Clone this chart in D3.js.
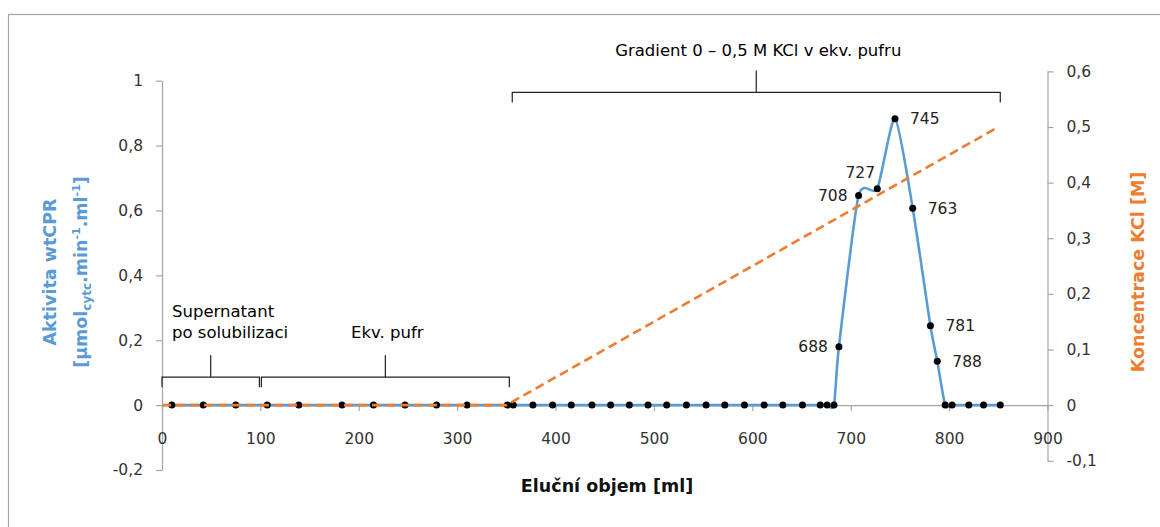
<!DOCTYPE html>
<html lang="cs">
<head>
<meta charset="UTF-8" />
<title>Eluce wtCPR</title>
<script src="https://d3js.org/d3.v7.min.js"></script>
<style>
    body { margin: 0; background: #fff; }
    svg { display: block; }
    .axis path, .axis line { stroke: #a6a6a6; stroke-width: 1.2px; }
    .axis text { font-family: "DejaVu Sans", sans-serif; font-size: 15.5px; fill: #333; }
    .note { font-family: "DejaVu Sans", sans-serif; font-size: 16.5px; fill: #000; }
    .bracket { fill: none; stroke: #222; stroke-width: 1.2px; }
    .ptlabel { font-family: "DejaVu Sans", sans-serif; font-size: 15.5px; fill: #222; }
    .title { font-family: "DejaVu Sans", sans-serif; font-weight: bold; font-size: 17.5px; }
</style>
</head>
<body>
<div id="chart"></div>
<script>
const width = 1160, height = 527;

// fractions: elution volume [ml] and wtCPR activity
const volume = [10, 42, 75, 107, 139, 183, 215, 247, 279, 310, 351, 357, 377, 397, 416, 437,
    456, 475, 494, 513, 533, 553, 572, 592, 612, 631, 651, 669, 676, 683,
    688, 708, 727, 745, 763, 781, 788, 796, 803, 820, 835, 852];
const activity = [0, 0, 0, 0, 0, 0, 0, 0, 0, 0, 0, 0, 0, 0, 0, 0,
    0, 0, 0, 0, 0, 0, 0, 0, 0, 0, 0, 0, 0, 0,
    0.18, 0.646, 0.667, 0.883, 0.607, 0.245, 0.135, 0, 0, 0, 0, 0];

// KCl gradient (right axis)
const kclVolume = [0, 350, 850];
const kclConc = [0, 0, 0.5];

// labelled fractions
const labelVolume = [688, 708, 727, 745, 763, 781, 788];
const labelSide = ["left", "left", "top", "right", "right", "right", "right"];

// phases of the run
const phaseNames = [["Supernatant", "po solubilizaci"], ["Ekv. pufr"], ["Gradient 0 – 0,5 M KCl v ekv. pufru"]];
const phaseFrom = [0, 101, 356];
const phaseTo = [99, 353, 852];
const phaseLevel = [0.086, 0.086, 0.964];

const xTicks = [0, 100, 200, 300, 400, 500, 600, 700, 800, 900];
const leftTicks = [-0.2, 0, 0.2, 0.4, 0.6, 0.8, 1];
const rightTicks = [-0.1, 0, 0.1, 0.2, 0.3, 0.4, 0.5, 0.6];

const comma = d => String(d).replace(".", ",");

const svg = d3.select("#chart").append("svg")
    .attr("width", width)
    .attr("height", height);

// chart frame
svg.append("rect")
    .attr("x", 8.5).attr("y", 14.5)
    .attr("width", 1200).attr("height", 600)
    .attr("fill", "none").attr("stroke", "#a6a6a6").attr("stroke-width", 1.2);

const x = d3.scaleLinear().domain([0, 900]).range([162, 1047.5]);
const yL = d3.scaleLinear().domain([-0.2, 1]).range([470, 80.7]);
// right axis: zero on the same line as the left one, 0,5 M at y = 127
const rStep = (yL(0) - 127) / 0.5;
const yR = d3.scaleLinear().domain([-0.1, 0.6]).range([yL(0) + 0.1 * rStep, yL(0) - 0.6 * rStep]);

// axes
svg.append("g")
    .attr("class", "axis")
    .attr("transform", `translate(${x(0)},0)`)
    .call(d3.axisLeft(yL).tickValues(leftTicks).tickFormat(comma)
        .tickSizeInner(6).tickSizeOuter(0).tickPadding(13));

svg.append("g")
    .attr("class", "axis")
    .attr("transform", `translate(${x(900)},0)`)
    .call(d3.axisRight(yR).tickValues(rightTicks).tickFormat(comma)
        .tickSizeInner(6).tickSizeOuter(0).tickPadding(13));

const xAxis = svg.append("g")
    .attr("class", "axis")
    .attr("transform", `translate(0,${yL(0)})`)
    .call(d3.axisBottom(x).tickValues(xTicks).tickFormat(comma)
        .tickSizeInner(6).tickSizeOuter(0).tickPadding(22));
xAxis.select(".domain").attr("stroke", "#7f7f7f");

// blue activity line
const pts = volume.map((v, i) => [v, activity[i]]);
svg.append("path")
    .datum(pts)
    .attr("fill", "none")
    .attr("stroke", "#5b9bd5")
    .attr("stroke-width", 2.6)
    .attr("stroke-linejoin", "round")
    .attr("d", d3.line().x(d => x(d[0])).y(d => yL(d[1])).curve(d3.curveCardinal.tension(0.35)));

svg.append("g")
    .selectAll("circle")
    .data(pts)
    .join("circle")
    .attr("cx", d => x(d[0]))
    .attr("cy", d => yL(d[1]))
    .attr("r", 3.5)
    .attr("fill", "#000");

// orange KCl line
svg.append("path")
    .datum(kclVolume.map((v, i) => [v, kclConc[i]]))
    .attr("fill", "none")
    .attr("stroke", "#ed7d31")
    .attr("stroke-width", 2.6)
    .attr("stroke-dasharray", "9,5")
    .attr("d", d3.line().x(d => x(d[0])).y(d => yR(d[1])));

// point labels
labelVolume.forEach((v, k) => {
    const i = volume.indexOf(v);
    const px = x(v), py = yL(activity[i]);
    const side = labelSide[k];
    const t = svg.append("text").attr("class", "ptlabel").text(v).attr("dy", "0.36em");
    if (side === "left") t.attr("x", px - 11).attr("y", py).attr("text-anchor", "end");
    else if (side === "right") t.attr("x", px + 15).attr("y", py);
    else t.attr("x", px - 17).attr("y", py - 16).attr("text-anchor", "middle");
});

// phase brackets
phaseNames.forEach((lines, k) => {
    const x0 = x(phaseFrom[k]), x1 = x(phaseTo[k]), yb = yL(phaseLevel[k]);
    const xm = (x0 + x1) / 2;
    svg.append("path")
        .attr("class", "bracket")
        .attr("d", `M${x0},${yb + 10}V${yb}H${x1}V${yb + 10}M${xm},${yb}V${yb - 22}`);
    const t = svg.append("text").attr("class", "note");
    const base = yb - 22 - 17;
    if (k === 0) {
        lines.forEach((s, j) => t.append("tspan")
            .attr("x", x0 + 10)
            .attr("y", base - (lines.length - 1 - j) * 21.5)
            .text(s));
    } else {
        t.attr("text-anchor", "middle").attr("x", xm + 2).attr("y", k === 2 ? base + 3 : base).text(lines[0]);
    }
});

// axis titles
svg.append("text")
    .attr("class", "title")
    .attr("text-anchor", "middle")
    .attr("x", 607).attr("y", 492)
    .attr("fill", "#111")
    .text("Eluční objem [ml]");

svg.append("text")
    .attr("class", "title")
    .attr("text-anchor", "middle")
    .attr("fill", "#5b9bd5")
    .attr("transform", "translate(56,272) rotate(-90)")
    .text("Aktivita wtCPR");

const lt2 = svg.append("text")
    .attr("class", "title")
    .attr("text-anchor", "middle")
    .attr("fill", "#5b9bd5")
    .attr("transform", "translate(87,272) rotate(-90)");
lt2.append("tspan").text("[µmol");
lt2.append("tspan").attr("font-size", "12px").attr("dy", 4).text("cytc");
lt2.append("tspan").attr("dy", -4).text(".min");
lt2.append("tspan").attr("font-size", "11px").attr("dy", -7).text("-1");
lt2.append("tspan").attr("dy", 7).text(".ml");
lt2.append("tspan").attr("font-size", "11px").attr("dy", -7).text("-1");
lt2.append("tspan").attr("dy", 7).text("]");

svg.append("text")
    .attr("class", "title")
    .attr("text-anchor", "middle")
    .attr("fill", "#ed7d31")
    .attr("transform", "translate(1144,272) rotate(-90)")
    .text("Koncentrace KCl [M]");
</script>
</body>
</html>
